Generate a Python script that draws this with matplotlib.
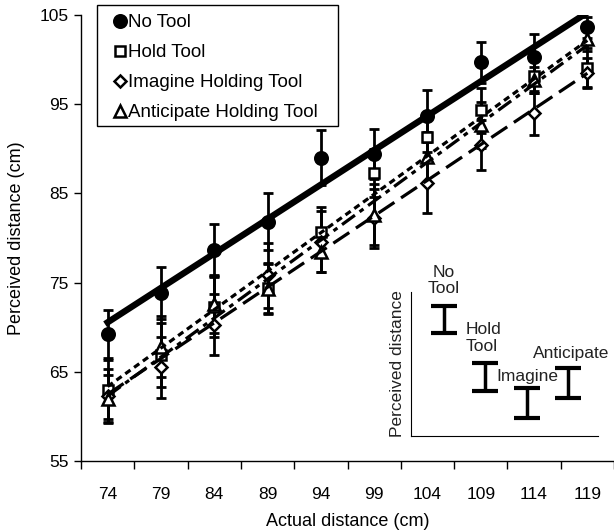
import matplotlib
matplotlib.use("Agg")
import matplotlib.pyplot as plt
from matplotlib.lines import Line2D
from matplotlib.patches import Rectangle
import numpy as np

plt.rcParams['font.family'] = ['Liberation Sans', 'DejaVu Sans']

# data
actual = [74, 79, 84, 89, 94, 99, 104, 109, 114, 119]

no_tool = [69.2, 73.8, 78.6, 81.8, 89.0, 89.4, 93.7, 99.7, 100.3, 103.6]
no_tool_se = [2.7, 2.9, 3.0, 3.2, 3.1, 2.8, 2.9, 2.3, 2.6, 1.2]

hold = [63.0, 66.9, 72.3, 74.4, 80.7, 87.3, 91.3, 94.3, 98.2, 99.1]
hold_se = [3.3, 3.6, 3.4, 2.8, 2.8, 2.7, 2.6, 2.5, 2.0, 2.2]

imagine = [62.3, 65.5, 70.3, 75.8, 79.6, 82.2, 86.2, 90.4, 94.0, 98.5]
imagine_se = [3.0, 3.4, 3.4, 3.6, 3.4, 3.3, 3.4, 2.8, 2.5, 1.7]

anticipate = [62.0, 67.8, 72.6, 74.3, 78.4, 82.6, 89.1, 92.7, 97.7, 102.3]
anticipate_se = [2.6, 3.4, 3.2, 2.8, 2.2, 3.4, 2.8, 2.6, 1.5, 1.3]

# schematic inset (arbitrary units)
inset_labels = ["No\nTool", "Hold\nTool", "Imagine", "Anticipate"]
inset_means = [81, 41, 23, 37]
inset_err = [9.5, 10, 10.5, 10.5]

W, H = 614, 531
fig = plt.figure(figsize=(W / 100, H / 100), dpi=100)
ax = fig.add_axes([81 / W, 70 / H, (W - 81) / W, 446 / H])

x = np.arange(len(actual))

series = [
    ("No Tool", no_tool, no_tool_se, dict(marker='o', ms=9, mfc='black')),
    ("Hold Tool", hold, hold_se, dict(marker='s', ms=7.5, mfc='white')),
    ("Imagine Holding Tool", imagine, imagine_se, dict(marker='D', ms=6.5, mfc='white')),
    ("Anticipate Holding Tool", anticipate, anticipate_se, dict(marker='^', ms=8.5, mfc='white')),
]
trend_styles = [
    dict(lw=4.6, ls='-'),
    dict(lw=2.3, ls=(0, (2.0, 1.4))),
    dict(lw=2.3, ls=(0, (6, 2.5))),
    dict(lw=2.3, ls=(0, (5, 1.8, 1.5, 1.8))),
]

handles = []
for (name, vals, se, mk), tst in zip(series, trend_styles):
    ax.errorbar(x, vals, yerr=se, fmt='none', ecolor='black', elinewidth=2,
                capsize=3.5, capthick=2, zorder=3)
    ax.plot(x, vals, ls='none', color='black', mec='black', mew=1.8, zorder=3.5, **mk)
    slope, icept = np.polyfit(x, vals, 1)
    ax.plot(x, slope * x + icept, color='black', zorder=4, **tst)
    handles.append(Line2D([], [], ls='none', color='black', mec='black', mew=1.8,
                          label=name, **mk))

ax.set_ylim(55, 105)
ax.set_yticks([55, 65, 75, 85, 95, 105])
ax.set_xlim(-0.5, 9.45)
ax.set_xticks(x)
ax.set_xticklabels([str(a) for a in actual])
ax.set_xticks(np.arange(-0.5, 9.6, 1), minor=True)
ax.tick_params(axis='x', which='major', length=0, pad=19, labelsize=12.5)
ax.tick_params(axis='x', which='minor', length=6, width=1, direction='out')
ax.tick_params(axis='y', length=5, width=1, pad=4, labelsize=12.5)
for s in ['top', 'right']:
    ax.spines[s].set_visible(False)
for s in ['left', 'bottom']:
    ax.spines[s].set_linewidth(1)
ax.set_xlabel("Actual distance (cm)", fontsize=13, labelpad=8)
ax.set_ylabel("Perceived distance (cm)", fontsize=13, labelpad=10)

# legend with a square frame drawn separately
fig.patches.append(Rectangle((97 / W, 1 - 126 / H), (338 - 97) / W, (126 - 5) / H,
                             transform=fig.transFigure, fill=False, ec='black', lw=1))
fig.legend(handles=handles, loc='upper left', bbox_to_anchor=(112 / W, 1 - 14 / H),
           frameon=False, fontsize=13.5, borderpad=0, handlelength=0.8,
           handletextpad=0.05, labelspacing=0.69, borderaxespad=0)

# inset schematic
axi = fig.add_axes([411 / W, 1 - 436 / H, (598 - 411) / W, (436 - 292) / H])
xi = np.arange(len(inset_means))
axi.errorbar(xi, inset_means, yerr=inset_err, fmt='none', ecolor='black',
             elinewidth=2.5, capsize=9.5, capthick=3)
axi.set_xlim(-0.8, 3.73)
axi.set_ylim(0, 100)
axi.set_xticks([])
axi.set_yticks([])
axi.patch.set_alpha(0)
for s in ['top', 'right']:
    axi.spines[s].set_visible(False)
axi.set_ylabel("Perceived distance", fontsize=12.5, labelpad=4, color='#222222')
txt = dict(fontsize=12.5, color='#222222', linespacing=1.1, clip_on=False)
axi.text(0.0, 108, inset_labels[0], ha='center', va='center', **txt)
axi.text(0.53, 68, inset_labels[1], ha='left', va='center', **txt)
axi.text(1.26, 41, inset_labels[2], ha='left', va='center', **txt)
axi.text(2.15, 57.6, inset_labels[3], ha='left', va='center', **txt)

fig.savefig("out.png", dpi=100)
